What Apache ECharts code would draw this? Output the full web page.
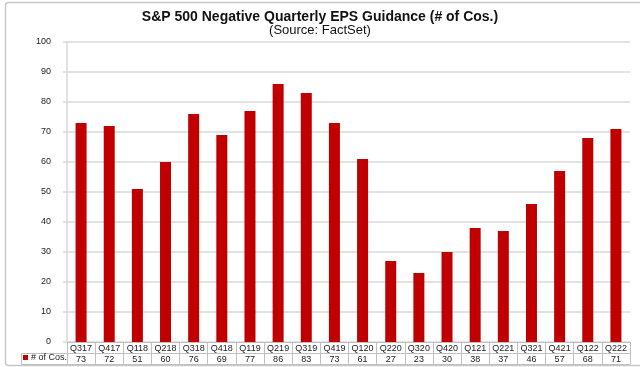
<!DOCTYPE html>
<html>
<head>
<meta charset="utf-8">
<script src="https://cdn.jsdelivr.net/npm/echarts@6/dist/echarts.min.js"></script>
<style>html,body{margin:0;padding:0;background:#fff;}#c{width:640px;height:367px;}</style>
</head>
<body>
<div id="c"></div>
<script>
var categories = ['Q317','Q417','Q118','Q218','Q318','Q418','Q119','Q219','Q319','Q419','Q120','Q220','Q320','Q420','Q121','Q221','Q321','Q421','Q122','Q222'];
var values = [73,72,51,60,76,69,77,86,83,73,61,27,23,30,38,37,46,57,68,71];
var yTicks = {min: 0, max: 100, interval: 10};
var seriesName = '# of Cos.';

var chart = echarts.init(document.getElementById('c'));
var font = 'Liberation Sans, Arial, sans-serif';
var gridColor = '#d9d9d9';
var tableColor = '#c0c0c0';
chart.setOption({
  animation: false,
  textStyle: {fontFamily: font},
  title: {
    text: 'S&P 500 Negative Quarterly EPS Guidance (# of Cos.)',
    subtext: '(Source: FactSet)',
    left: 'center',
    top: 5,
    itemGap: 0,
    textStyle: {fontFamily: font, fontSize: 14, fontWeight: 'bold', color: '#111'},
    subtextStyle: {fontFamily: font, fontSize: 13, color: '#111'}
  },
  legend: {
    data: [seriesName],
    left: 23, top: 353,
    itemWidth: 5, itemHeight: 5, itemGap: 2,
    icon: 'rect',
    padding: 0,
    textStyle: {fontFamily: font, fontSize: 9, color: '#222', padding: [1,0,0,-2]}
  },
  grid: {left: 67, right: 10, top: 42, bottom: 25, containLabel: false},
  xAxis: [
    {
      type: 'category', data: categories, position: 'bottom',
      axisLine: {show: true, lineStyle: {color: tableColor, width: 1}},
      axisTick: {show: true, interval: 0, length: 22, lineStyle: {color: tableColor}},
      axisLabel: {interval: 0, margin: 2, fontSize: 9, color: '#222', fontFamily: font}
    },
    {
      type: 'category', data: values.map(String), position: 'bottom', offset: 11,
      axisLine: {show: true, lineStyle: {color: tableColor, width: 1}},
      axisTick: {show: false},
      axisLabel: {interval: 0, margin: 2, fontSize: 9, color: '#222', fontFamily: font}
    },
    {
      type: 'category', data: categories, position: 'bottom', offset: 22,
      axisLine: {show: true, lineStyle: {color: tableColor, width: 1}},
      axisTick: {show: false},
      axisLabel: {show: false}
    }
  ],
  yAxis: {
    type: 'value', min: yTicks.min, max: yTicks.max, interval: yTicks.interval,
    axisLine: {show: true, lineStyle: {color: gridColor, width: 1.5}},
    axisTick: {show: true, length: 4, lineStyle: {color: gridColor, width: 1.5}},
    splitLine: {show: true, lineStyle: {color: gridColor, width: 1.5}},
    axisLabel: {fontSize: 9, color: '#222', margin: 16, fontFamily: font}
  },
  graphic: [
    {type: 'rect', shape: {x: 5.5, y: 2.5, width: 650, height: 363, r: 3}, style: {fill: 'none', stroke: '#c8c8c8', lineWidth: 1.5}, silent: true},
    {type: 'polyline', shape: {points: [[67.5, 353.5], [21.5, 353.5], [21.5, 364.5], [67.5, 364.5]]}, style: {fill: 'none', stroke: tableColor, lineWidth: 1}, silent: true}
  ],
  series: [{
    name: seriesName, type: 'bar', data: values, barWidth: 11,
    itemStyle: {color: '#c00000'}
  }]
});
</script>
</body>
</html>
